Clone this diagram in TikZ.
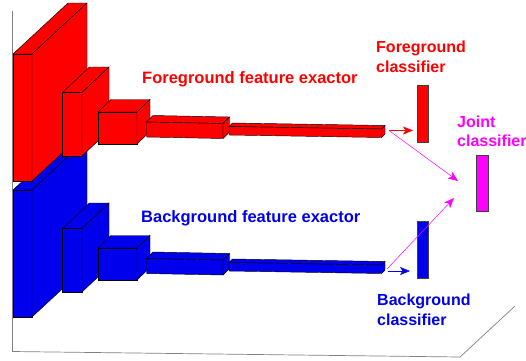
\documentclass[tikz,border=0pt]{standalone}
\usepackage{fontspec}
\setmainfont{Liberation Sans}
\usetikzlibrary{arrows.meta}
\definecolor{bgblue}{rgb}{0,0,.93}
\definecolor{jointpink}{rgb}{1,0,1}
% front top left x,y; width; height; depth x,y; fall of the long edges
\newcommand{\featbox}[8]{
	\filldraw [boxline, fill=#1] (#2,#3) -- ++(#4,#8) -- ++(#6,#7) -- ++(-#4,-#8) -- cycle;
	\filldraw [boxline, fill=#1] (#2,#3) -- ++(#4,#8) -- ++(0,#5) -- ++(-#4,-#8) -- cycle;
	\filldraw [boxline, fill=#1] (#2+#4,#3+#8) -- ++(#6,#7) -- ++(0,#5) -- ++(-#6,-#7) -- cycle;
}
\begin{document}
\begin{tikzpicture}[x=1pt, y=-1pt]
	\tikzstyle{boxline} = [draw=black, line width=.45pt]
	\tikzstyle{floorline} = [draw=black!50, line width=.7pt]
	\tikzstyle{classifier} = [rectangle, draw=black!75, line width=.7pt, minimum width=11.5pt, inner sep=0pt]
	\tikzstyle{title} = [font=\bfseries\fontsize{16}{19.5}\selectfont, align=left, inner sep=0pt]
	\tikzstyle{longtitle} = [title, font=\bfseries\fontsize{16.5}{19.5}\selectfont, anchor=west]
	\tikzstyle{link} = [-{Stealth[length=10pt, width=8pt, inset=2.5pt]}, line width=.5pt]
	\useasboundingbox (0,0) rectangle (526,360);
	% floor
	\draw [floorline] (12.5,11) -- (12.5,351.5) -- (460,357) -- (515,306);
	% big boxes first, the red one stands on the blue one
	\featbox{bgblue}{13}{190}{19}{127}{55}{-51}{0}
	\featbox{red}{13}{54}{19}{127}{55}{-51}{0}
	% foreground stages
	\featbox{red}{62.5}{92.5}{19.5}{63.5}{27}{-25.5}{0}
	\featbox{red}{98}{112}{39}{32}{13}{-12.5}{0}
	\featbox{red}{146.5}{122}{76.5}{15}{6.5}{-6.5}{1.5}
	\featbox{red}{229}{126.5}{152.5}{8.5}{3.5}{-3.5}{2.5}
	% background stages
	\featbox{bgblue}{62.5}{228.5}{19.5}{63.5}{27}{-25.5}{0}
	\featbox{bgblue}{98}{248}{39}{32}{13}{-12.5}{0}
	\featbox{bgblue}{146.5}{258.5}{76.5}{15}{6.5}{-6.5}{1.5}
	\featbox{bgblue}{229}{262.5}{152.5}{8.5}{3.5}{-3.5}{2.5}
	% classifiers
	\node (fgcls)    at (422.75,114)  [classifier, fill=red, minimum height=57pt] {};
	\node (bgcls)    at (422.75,249.75) [classifier, fill=bgblue, minimum height=57pt] {};
	\node (jointcls) at (482.5,183)   [classifier, fill=jointpink, minimum height=56pt] {};
	% labels
	\node (fgtitle)    at (142,79.5)  [longtitle, text=red] {Foreground feature exactor};
	\node (bgtitle)    at (141,218) [longtitle, text=bgblue] {Background feature exactor};
	\node (fglabel)    at (376,57)  [title, anchor=west, text=red] {Foreground\\classifier};
	\node (bglabel)    at (377,310) [title, anchor=west, text=bgblue] {Background\\classifier};
	\node (jointlabel) at (457,131.5) [title, anchor=west, text=jointpink] {Joint\\classifier};
	% arrow ends
	\coordinate (fgtail)  at (389,130.5);
	\coordinate (fghead)  at (413,130.5);
	\coordinate (bgtail)  at (388,271);
	\coordinate (bghead)  at (410,271);
	\coordinate (fgjoint) at (458,181);
	\coordinate (bgtailb) at (387,269);
	\coordinate (bgjoint) at (454,198);
	\draw [link, red]       (fgtail)  -- (fghead);
	\draw [link, bgblue]    (bgtail)  -- (bghead);
	\draw [link, jointpink] (fgtail)  -- (fgjoint);
	\draw [link, jointpink] (bgtailb) -- (bgjoint);
\end{tikzpicture}
\end{document}
